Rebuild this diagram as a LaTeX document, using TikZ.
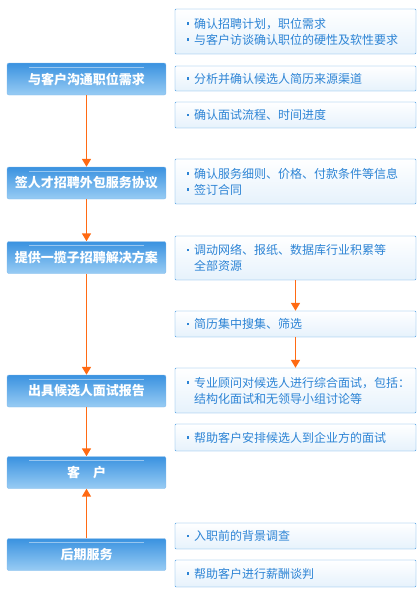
\documentclass[tikz,border=0pt]{standalone}
\usepackage{fontspec}
\setmainfont{Noto Sans CJK SC}
\usetikzlibrary{arrows.meta}
\definecolor{stepblue}{HTML}{3A92E0}
\definecolor{steplight}{HTML}{98CCF4}
\definecolor{lineblue}{HTML}{4C9DE2}
\definecolor{textblue}{HTML}{2D84D5}
\definecolor{paleblue}{HTML}{E6F2FC}
\definecolor{arroworange}{HTML}{FF6A13}
\newcommand{\sq}{\hspace*{6.5pt}\textcolor{textblue}{\rule[3.5pt]{2.3pt}{2.3pt}}\kern4.7pt\relax}
\newcommand{\ind}{\hspace*{13.5pt}}
\begin{document}
\begin{tikzpicture}[x=1pt,y=-1pt,
  stepbox/.style={draw=lineblue!70, rounded corners=2pt, minimum width=159pt, minimum height=32pt,
    top color=stepblue, middle color=stepblue!90!white, bottom color=steplight,
    text=white, font={\fontsize{13}{15}\selectfont\bfseries}, inner sep=0pt,
    path picture={\draw[white, opacity=.45, line width=.8pt]
      ([xshift=22pt,yshift=-4pt]path picture bounding box.north west) --
      ([xshift=-22pt,yshift=-4pt]path picture bounding box.north east);}},
  infobox/.style={draw=lineblue, rounded corners=1pt, minimum width=241pt,
    top color=white, bottom color=paleblue, text=textblue, align=left,
    text width=230pt, inner xsep=0pt, inner ysep=4pt,
    font={\fontsize{12}{16}\selectfont}},
  flow/.style={draw=arroworange, line width=1.5pt, -{Triangle[width=9pt,length=8pt]}}]
  \useasboundingbox (0,0) rectangle (420,590);

  % steps on the left
  \node[stepbox] (S1) at (86.5,79) {与客户沟通职位需求};
  \node[stepbox] (S2) at (86.5,183) {签人才招聘外包服务协议};
  \node[stepbox] (S3) at (86.5,257.5) {提供一揽子招聘解决方案};
  \node[stepbox] (S4) at (86.5,391) {出具候选人面试报告};
  \node[stepbox] (S5) at (86.5,472.5) {客\quad 户};
  \node[stepbox] (S6) at (86.5,554.5) {后期服务};

  % details on the right
  \node[infobox, minimum height=45pt] (D1) at (295.5,31.5) {\sq 确认招聘计划，职位需求\\ \sq 与客户访谈确认职位的硬性及软性要求};
  \node[infobox, minimum height=25pt] (D2) at (295.5,78.5) {\sq 分析并确认候选人简历来源渠道};
  \node[infobox, minimum height=26pt] (D3) at (295.5,115) {\sq 确认面试流程、时间进度};
  \node[infobox, minimum height=45pt] (D4) at (295.5,181.5) {\sq 确认服务细则、价格、付款条件等信息\\ \sq 签订合同};
  \node[infobox, minimum height=44pt] (D5) at (295.5,258) {\sq 调动网络、报纸、数据库行业积累等\\ \ind 全部资源};
  \node[infobox, minimum height=26pt] (D6) at (295.5,324) {\sq 简历集中搜集、筛选};
  \node[infobox, minimum height=45pt] (D7) at (295.5,390.5) {\sq 专业顾问对候选人进行综合面试，包括：\\ \ind 结构化面试和无领导小组讨论等};
  \node[infobox, minimum height=27pt] (D8) at (295.5,437.5) {\sq 帮助客户安排候选人到企业方的面试};
  \node[infobox, minimum height=26pt] (D9) at (295.5,536) {\sq 入职前的背景调查};
  \node[infobox, minimum height=27pt] (D10) at (295.5,573.5) {\sq 帮助客户进行薪酬谈判};

  \draw[flow] (S1) -- (S2);
  \draw[flow] (S2) -- (S3);
  \draw[flow] (S3) -- (S4);
  \draw[flow] (S4) -- (S5);
  \draw[flow] (S6) -- (S5);

  \draw[flow] (D5) -- (D6);
  \draw[flow] (D6) -- (D7);
\end{tikzpicture}
\end{document}
